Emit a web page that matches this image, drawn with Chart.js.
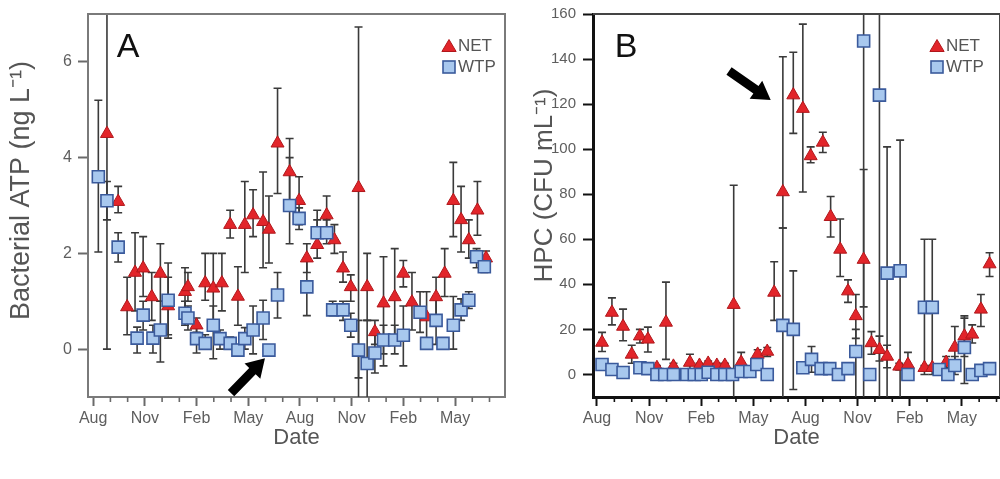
<!DOCTYPE html>
<html>
<head>
<meta charset="utf-8">
<script src="https://cdn.jsdelivr.net/npm/chart.js@4.4.1/dist/chart.umd.min.js"></script>
<style>
  html, body { margin: 0; padding: 0; background: #fff; }
  .wrap { position: relative; width: 1000px; height: 479px; overflow: hidden; }
  #chart-a { position: absolute; left: 0; top: 0; }
  #chart-b { position: absolute; left: 510px; top: 0; }
</style>
</head>
<body>
<div class="wrap">
  <canvas id="chart-a" width="510" height="479"></canvas>
  <canvas id="chart-b" width="490" height="479"></canvas>
</div>
<script>
// months counted from the first August (0 = Aug, 3 = Nov, 6 = Feb ...)
const monthTicks = [0, 3, 6, 9, 12, 15, 18, 21];
const monthLabels = ["Aug", "Nov", "Feb", "May", "Aug", "Nov", "Feb", "May"];
const atpTicks = [0, 2, 4, 6];
const hpcTicks = [0, 20, 40, 60, 80, 100, 120, 140, 160];

// [month, mean, low, high]  -- bacterial ATP (ng/L)
const atpNet = [
  [0.8, 4.5, 0, 9], [1.45, 3.08, 2.85, 3.4], [1.97, 0.88, 0.3, 1.5], [2.43, 1.6, 0.8, 2.43],
  [2.9, 1.69, 1.1, 2.35], [3.4, 1.09, 0.6, 1.6], [3.9, 1.58, 1.0, 2.2], [4.35, 0.9, 0.3, 1.5],
  [5.33, 1.2, 0.7, 1.7], [5.5, 1.3, 1.0, 1.6], [6.0, 0.5, 0.35, 0.65], [6.5, 1.38, 1.02, 2.0],
  [6.97, 1.27, 0.4, 2.0], [7.47, 1.38, 0.8, 2.0], [7.95, 2.6, 2.32, 2.9], [8.4, 1.1, 0.5, 1.72],
  [8.8, 2.6, 1.6, 3.5], [9.28, 2.8, 2.35, 3.33], [9.86, 2.66, 1.7, 3.7], [10.2, 2.5, 1.8, 3.2],
  [10.7, 4.3, 3.25, 5.45], [11.4, 3.7, 2.95, 4.4], [11.95, 3.1, 2.6, 3.6], [12.4, 1.9, 1.6, 2.2],
  [13.0, 2.18, 1.9, 2.9], [13.55, 2.8, 2.4, 3.2], [14.0, 2.28, 2.0, 2.6], [14.5, 1.69, 1.4, 2.03],
  [14.95, 1.3, 1.0, 1.55], [15.4, 3.37, -1.5, 6.73], [15.9, 1.3, 0.6, 2.0], [16.35, 0.36, 0.1, 0.6],
  [16.85, 0.96, -0.35, 1.93], [17.5, 1.09, 0.1, 2.1], [18.0, 1.58, 1.3, 1.85], [18.5, 0.98, 0.4, 1.6],
  [19.35, 0.67, 0.1, 1.2], [19.9, 1.09, 0.6, 1.5], [20.4, 1.58, 1.1, 2.1], [20.9, 3.1, 2.35, 3.9],
  [21.35, 2.7, 2.03, 3.4], [21.8, 2.28, 1.9, 2.7], [22.3, 2.9, 2.38, 3.5], [22.8, 1.9, 1.75, 2.05],
];
const atpWtp = [
  [0.3, 3.6, 2.03, 5.2], [0.8, 3.1, 2.7, 3.5], [1.45, 2.13, 1.82, 2.43], [2.55, 0.23, -0.08, 0.46],
  [2.9, 0.71, 0.4, 1.0], [3.47, 0.23, -0.08, 0.5], [3.9, 0.4, -0.27, 1.0], [4.35, 1.02, 0.23, 1.8],
  [5.33, 0.75, 0.5, 1.0], [5.5, 0.65, 0.4, 0.9], [6.0, 0.22, -0.08, 0.5], [6.5, 0.12, 0, 0.3],
  [6.97, 0.5, -0.2, 0.9], [7.36, 0.22, 0, 0.4], [7.95, 0.12, 0, 0.25], [8.4, -0.02, -0.05, 0.05],
  [8.8, 0.22, 0.0, 0.45], [9.28, 0.4, -0.1, 0.9], [9.86, 0.65, 0.2, 1.02], [10.2, -0.02, -0.02, -0.02],
  [10.7, 1.13, 0.65, 1.6], [11.4, 3.0, 2.2, 4.0], [11.95, 2.73, 2.5, 2.95], [12.4, 1.3, 0.7, 1.9],
  [13.0, 2.43, 2.2, 2.7], [13.55, 2.43, 2.2, 2.7], [13.9, 0.82, 0.7, 1.0], [14.5, 0.82, 0.6, 1.0],
  [14.95, 0.5, 0.25, 0.75], [15.4, -0.02, -0.6, 0.6], [15.9, -0.3, -1.5, 0.6], [16.35, -0.08, -0.5, 0.3],
  [16.85, 0.19, -0.1, 0.5], [17.5, 0.19, -0.1, 0.5], [18.0, 0.29, -0.35, 0.9], [18.97, 0.77, 0.35, 1.2],
  [19.35, 0.12, 0.12, 0.12], [19.9, 0.6, 0.1, 1.1], [20.3, 0.12, 0.12, 0.12], [20.9, 0.5, 0.0, 1.1],
  [21.35, 0.82, 0.6, 1.05], [21.8, 1.02, 0.85, 1.2], [22.25, 1.93, 1.7, 2.1], [22.7, 1.72, 1.6, 1.85],
];

// [month, mean, low, high]  -- HPC (CFU/mL)
const hpcNet = [
  [0.29, 14.2, 10.2, 18.7], [0.86, 27.5, 22, 34], [1.5, 21.3, 15, 29], [2.0, 8.9, 5, 13],
  [2.47, 17, 14, 20], [2.93, 15.6, 10, 21], [3.45, 3, 2, 4], [3.97, 23.1, 6.7, 41],
  [4.4, 3.6, 2.5, 5], [5.35, 5.3, 1, 9], [5.9, 4, 3, 5], [6.4, 4.9, 3.5, 6],
  [6.9, 4, 3, 5], [7.36, 4, 3, 5], [7.87, 31, -15, 84], [8.3, 5.3, 1, 9.8],
  [9.25, 8.9, 6, 11], [9.8, 10.2, 8, 12], [10.2, 36.4, 24, 50], [10.7, 81, 65, 141],
  [11.3, 124, 107, 143], [11.85, 118, 81, 155.5], [12.3, 97, 94, 101], [13.0, 103, 98.5, 107.5],
  [13.45, 70, 61, 79], [14.0, 55.5, 43.5, 69], [14.45, 37, 32, 42], [14.9, 26, 16, 35.5],
  [15.35, 51, 30, 91], [15.8, 14, 9, 19], [16.26, 11, 6, 17], [16.7, 8, 3, 13],
  [17.4, 3.6, 2, 5], [17.9, 4.4, 0, 9.8], [18.85, 3, 2, 4], [19.3, 3, 2, 4],
  [20.1, 5.3, 3, 8], [20.6, 12, 5, 21.3], [21.15, 17, 8, 26], [21.6, 17.8, 14, 22],
  [22.1, 28.9, 21.3, 35.5], [22.6, 49, 43.5, 54],
];
const hpcWtp = [
  [0.29, 4.4, 3, 6], [0.86, 2.2, 1, 3.5], [1.5, 0.9, 0, 2], [2.47, 3.0, 1.5, 4.5],
  [2.93, 2.6, 1, 4], [3.45, 0, 0, 0], [3.9, 0, 0, 0], [4.4, 0, 0, 0],
  [5.17, 0, 0, 0], [5.6, 0, 0, 0], [6.0, 0, 0, 0], [6.4, 1, 0, 2],
  [6.9, 0, 0, 0], [7.36, 0, 0, 0], [7.8, 0, 0, 0], [8.3, 1.3, 0, 2.5],
  [8.8, 1.3, 0, 2.5], [9.2, 4.4, 2, 7], [9.8, 0, 0, 0], [10.7, 21.8, -15, 65],
  [11.3, 20, -6.7, 46], [11.85, 3, 1, 5], [12.35, 6.7, 1, 12.4], [12.9, 2.6, 1, 4],
  [13.4, 2.6, 1, 4], [13.9, 0, 0, 0], [14.45, 2.6, 1, 4], [14.9, 10.2, -15, 20],
  [15.35, 148, -15, 180], [15.7, 0, 0, 0], [16.26, 124, -15, 180], [16.7, 45, -15, 101],
  [17.45, 46, -15, 104], [17.9, 0, 0, 0], [18.85, 29.8, 0, 60], [19.3, 29.8, 0, 60],
  [19.7, 2.2, 1, 3.5], [20.2, 0, 0, 0], [20.6, 4, 0, 8], [21.15, 12, -4, 25],
  [21.6, 0, 0, 0], [22.1, 1.8, 0.5, 3], [22.6, 2.6, 1, 4],
];

const Config = {
  colors: {
    net: "#e2252a",
    netEdge: "#b0171b",
    wtp: "#a8c8ee",
    wtpEdge: "#3a5a9c",
    error: "#3a3a3a",
    dark: "#111111",
    text: "#5e5e5e",
    title: "#555555",
  },
  family: `"Liberation Sans", Arial, sans-serif`,
  tickSize: 16,
  capHalf: 4,
};

Chart.defaults.font.family = Config.family;
Chart.defaults.color = Config.colors.text;

const toPoints = (rows) => rows.map(([x, y, lo, hi]) => ({ x, y, lo, hi }));

const errorBars = {
  id: "errorBars",
  beforeDatasetsDraw(chart) {
    const { ctx, chartArea: a, scales } = chart;
    ctx.save();
    ctx.beginPath();
    ctx.rect(a.left, a.top, a.right - a.left, a.bottom - a.top);
    ctx.clip();
    ctx.strokeStyle = Config.colors.error;
    ctx.lineWidth = 1.6;
    chart.data.datasets.forEach((ds) => {
      ds.data.forEach((p) => {
        if (p.hi === p.lo) return;
        const px = scales.x.getPixelForValue(p.x);
        const top = scales.y.getPixelForValue(p.hi);
        const bot = scales.y.getPixelForValue(p.lo);
        ctx.beginPath();
        ctx.moveTo(px, top);
        ctx.lineTo(px, bot);
        ctx.moveTo(px - Config.capHalf, top);
        ctx.lineTo(px + Config.capHalf, top);
        ctx.moveTo(px - Config.capHalf, bot);
        ctx.lineTo(px + Config.capHalf, bot);
        ctx.stroke();
      });
    });
    ctx.restore();
  },
};

const drawTriangle = (ctx, x, y, r) => {
  ctx.beginPath();
  ctx.moveTo(x, y - r);
  ctx.lineTo(x + r * 0.95, y + r * 0.6);
  ctx.lineTo(x - r * 0.95, y + r * 0.6);
  ctx.closePath();
  ctx.fillStyle = Config.colors.net;
  ctx.strokeStyle = Config.colors.netEdge;
  ctx.lineWidth = 1;
  ctx.fill();
  ctx.stroke();
};

const drawSquare = (ctx, x, y, s) => {
  ctx.fillStyle = Config.colors.wtp;
  ctx.strokeStyle = Config.colors.wtpEdge;
  ctx.lineWidth = 1.6;
  ctx.fillRect(x - s / 2, y - s / 2, s, s);
  ctx.strokeRect(x - s / 2, y - s / 2, s, s);
};

const drawArrow = (ctx, x0, y0, x1, y1) => {
  const len = Math.hypot(x1 - x0, y1 - y0);
  const dx = (x1 - x0) / len, dy = (y1 - y0) / len;
  const nx = -dy, ny = dx;
  const shaft = 4.5, head = 18, wing = 11;
  const bx = x1 - dx * head, by = y1 - dy * head;
  ctx.beginPath();
  ctx.moveTo(x0 + nx * shaft, y0 + ny * shaft);
  ctx.lineTo(bx + nx * shaft, by + ny * shaft);
  ctx.lineTo(bx + nx * wing, by + ny * wing);
  ctx.lineTo(x1, y1);
  ctx.lineTo(bx - nx * wing, by - ny * wing);
  ctx.lineTo(bx - nx * shaft, by - ny * shaft);
  ctx.lineTo(x0 - nx * shaft, y0 - ny * shaft);
  ctx.closePath();
  ctx.fillStyle = "#000";
  ctx.fill();
};

const panel = {
  id: "panel",
  afterDraw(chart, args, opts) {
    const { ctx, chartArea: a, scales: { x, y } } = chart;
    ctx.save();
    // top / right frame
    ctx.strokeStyle = opts.frameColor;
    ctx.lineWidth = 2;
    ctx.beginPath();
    ctx.moveTo(a.left, a.top);
    ctx.lineTo(a.right, a.top);
    ctx.lineTo(a.right, a.bottom);
    ctx.stroke();
    // minor month ticks
    ctx.strokeStyle = opts.tickColor;
    ctx.lineWidth = 1.6;
    for (let m = Math.ceil(x.min); m <= x.max; m++) {
      if (m % 3 === 0) continue;
      const px = x.getPixelForValue(m);
      ctx.beginPath();
      ctx.moveTo(px, a.bottom);
      ctx.lineTo(px, a.bottom + 5);
      ctx.stroke();
    }
    // y axis title (sits a little above the middle of the axis)
    ctx.save();
    ctx.translate(opts.yTitleX, (a.top + a.bottom) / 2 - opts.yTitleLift);
    ctx.rotate(-Math.PI / 2);
    ctx.fillStyle = Config.colors.title;
    ctx.font = `${opts.yTitleSize}px ${Config.family}`;
    ctx.textAlign = "center";
    ctx.textBaseline = "middle";
    ctx.fillText(opts.yTitle, 0, 0);
    ctx.restore();
    // panel letter
    ctx.fillStyle = Config.colors.dark;
    ctx.font = `34px ${Config.family}`;
    ctx.textAlign = "center";
    ctx.textBaseline = "middle";
    ctx.fillText(opts.letter, a.left + opts.letterX, a.top + 34);
    // legend
    const lx = a.right - opts.legendRight;
    drawTriangle(ctx, lx, a.top + 33, 7.5);
    drawSquare(ctx, lx, a.top + 53, 12);
    ctx.fillStyle = Config.colors.title;
    ctx.font = `17px ${Config.family}`;
    ctx.textAlign = "left";
    ctx.fillText("NET", lx + 9, a.top + 32);
    ctx.fillText("WTP", lx + 9, a.top + 53);
    // arrow
    const [m0, v0, m1, v1] = opts.arrow;
    drawArrow(ctx, x.getPixelForValue(m0), y.getPixelForValue(v0), x.getPixelForValue(m1), y.getPixelForValue(v1));
    ctx.restore();
  },
};

const makeChart = (el, net, wtp, p) => {
  return new Chart(document.getElementById(el), {
    type: "scatter",
    data: {
      datasets: [
        {
          label: "NET",
          data: toPoints(net),
          order: 2,
          pointStyle: "triangle",
          pointRadius: 7.5,
          backgroundColor: Config.colors.net,
          borderColor: Config.colors.netEdge,
          borderWidth: 1,
        },
        {
          label: "WTP",
          data: toPoints(wtp),
          order: 1,
          pointStyle: "rect",
          pointRadius: 8.5,
          backgroundColor: Config.colors.wtp,
          borderColor: Config.colors.wtpEdge,
          borderWidth: 1.6,
        },
      ],
    },
    options: {
      responsive: false,
      animation: false,
      layout: { autoPadding: false, padding: { top: 14, right: p.padRight, left: 0, bottom: 0 } },
      scales: {
        x: {
          type: "linear",
          min: p.xMin,
          max: p.xMax,
          afterFit: (s) => { s.height = 82; s.paddingLeft = 0; s.paddingRight = 0; },
          afterBuildTicks: (s) => { s.ticks = monthTicks.map((value) => ({ value })); },
          ticks: {
            callback: (v, i) => monthLabels[i],
            font: { size: Config.tickSize },
            color: Config.colors.text,
            padding: 3,
            maxRotation: 0,
          },
          grid: { drawOnChartArea: false, tickLength: 9, tickWidth: 2, tickColor: p.tickColor },
          border: { color: p.axisColor, width: p.axisWidth },
          title: {
            display: true,
            text: "Date",
            color: Config.colors.title,
            font: { size: 22 },
            padding: { top: 0, bottom: 28 },
          },
        },
        y: {
          min: p.yMin,
          max: p.yMax,
          afterFit: (s) => { s.width = p.yWidth; s.paddingTop = 0; s.paddingBottom = 0; },
          afterBuildTicks: (s) => { s.ticks = p.yTicks.map((value) => ({ value })); },
          ticks: {
            font: { size: p.yTickSize },
            color: Config.colors.text,
            padding: p.yTickPad,
          },
          grid: { drawOnChartArea: false, tickLength: 10, tickWidth: 2, tickColor: p.tickColor },
          border: { color: p.axisColor, width: p.axisWidth },
        },
      },
      plugins: {
        legend: { display: false },
        tooltip: { enabled: false },
        panel: {
          letter: p.letter,
          letterX: p.letterX,
          legendRight: p.legendRight,
          frameColor: p.frameColor,
          tickColor: p.tickColor,
          arrow: p.arrow,
          yTitle: p.yTitle,
          yTitleX: p.yTitleX,
          yTitleSize: p.yTitleSize,
          yTitleLift: p.yTitleLift,
        },
      },
    },
    plugins: [errorBars, panel],
  });
};

makeChart("chart-a", atpNet, atpWtp, {
  xMin: -0.3, xMax: 23.9, yMin: -1, yMax: 7, yTicks: atpTicks,
  yWidth: 88, padRight: 5, yTickSize: 16, yTickPad: 6,
  yTitle: "Bacterial ATP (ng L\u207B\u00B9)", yTitleX: 22, yTitleSize: 27, yTitleLift: 15,
  axisColor: "#7a7a7a", axisWidth: 2, tickColor: "#6a6a6a", frameColor: "#7a7a7a",
  letter: "A", letterX: 40, legendRight: 56,
  arrow: [8.0, -0.92, 9.97, -0.19],
});

makeChart("chart-b", hpcNet, hpcWtp, {
  xMin: -0.23, xMax: 23.2, yMin: -10, yMax: 160, yTicks: hpcTicks,
  yWidth: 83, padRight: 0, yTickSize: 15, yTickPad: 7,
  yTitle: "HPC (CFU mL\u207B\u00B9)", yTitleX: 35, yTitleSize: 26, yTitleLift: 20,
  axisColor: "#111111", axisWidth: 3, tickColor: "#111111", frameColor: "#444444",
  letter: "B", letterX: 33, legendRight: 63,
  arrow: [7.6, 134.7, 10.0, 121.8],
});
</script>
</body>
</html>
